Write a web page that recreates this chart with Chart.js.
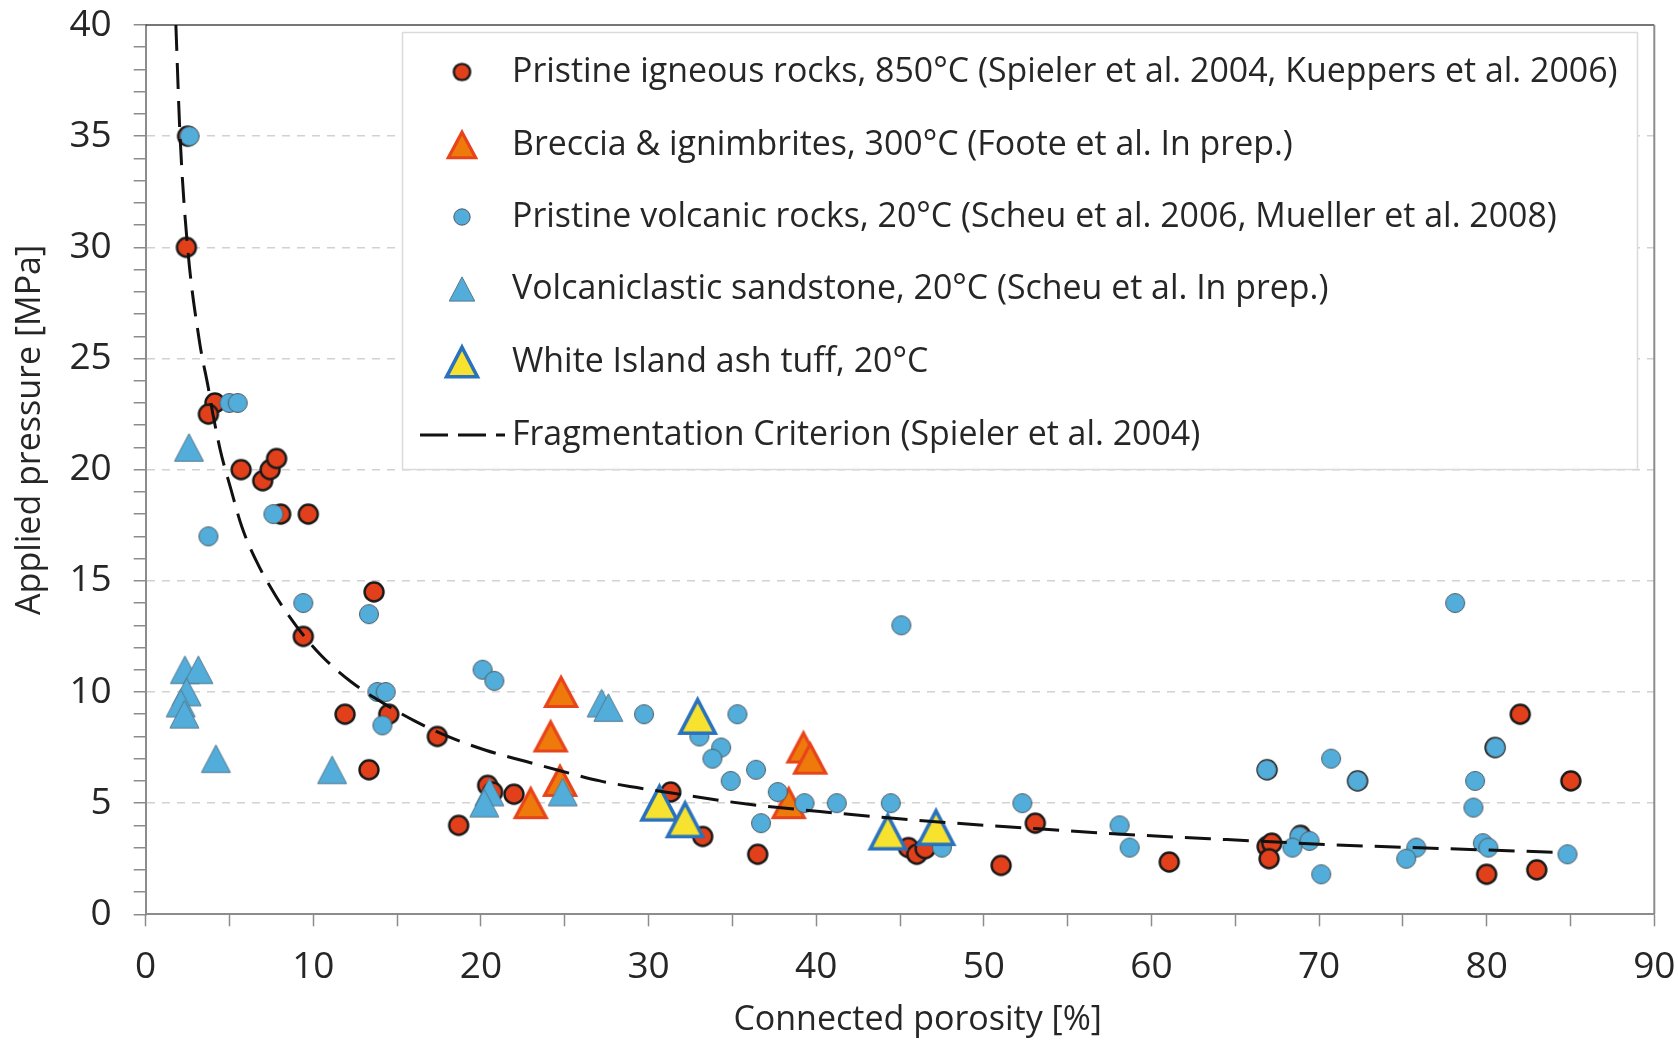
<!DOCTYPE html>
<html>
<head>
<meta charset="utf-8">
<title>Applied pressure vs connected porosity</title>
<script src="https://cdn.jsdelivr.net/npm/chart.js@4.4.1/dist/chart.umd.min.js"></script>
<style>
  html, body { margin: 0; padding: 0; background: #fff; }
  #wrap { position: relative; width: 1678px; height: 1041px; }
</style>
</head>
<body>
<div id="wrap"><canvas id="grafico"></canvas></div>
<script>
// Pristine igneous rocks, 850°C
const igneousX = [2.5, 2.43, 4.13, 3.74, 5.69, 6.98, 7.42, 7.81, 8.05, 9.7, 13.62, 9.4, 11.89, 14.5, 13.32, 17.4, 18.67, 20.4, 20.7, 21.97, 31.32, 33.23, 36.51, 45.5, 46.0, 46.5, 51.03, 53.07, 61.06, 66.9, 66.9, 67.18, 67.02, 68.9, 72.3, 80.5, 80.0, 82.0, 82.99, 85.02];
const igneousY = [35, 30, 23, 22.5, 20, 19.5, 20, 20.5, 18, 18, 14.5, 12.5, 9, 9, 6.5, 8, 4, 5.8, 5.5, 5.4, 5.5, 3.5, 2.7, 3.0, 2.7, 2.95, 2.2, 4.1, 2.35, 6.5, 3.05, 3.2, 2.5, 3.55, 6.0, 7.5, 1.8, 9.0, 2.0, 6.0];

// Breccia & ignimbrites, 300°C
const brecciaX = [24.78, 24.16, 24.72, 22.97, 39.24, 39.64, 38.36];
const brecciaY = [10, 8, 6, 5, 7.5, 7, 5];

// Pristine volcanic rocks, 20°C
const volcanicX = [2.62, 4.99, 5.49, 7.62, 3.74, 9.4, 13.32, 13.82, 14.32, 14.12, 20.1, 20.8, 29.73, 33.03, 35.3, 34.33, 33.81, 36.41, 34.9, 37.71, 39.3, 41.23, 44.45, 36.71, 47.5, 45.08, 52.3, 58.1, 58.7, 66.88, 70.72, 72.29, 68.83, 69.43, 68.41, 70.13, 75.8, 75.2, 78.12, 80.53, 79.31, 79.21, 79.77, 80.1, 84.82];
const volcanicY = [35, 23, 23, 18, 17, 14, 13.5, 10, 10, 8.5, 11, 10.5, 9, 8, 9, 7.5, 7, 6.5, 6, 5.5, 5, 5, 5, 4.1, 3.0, 13, 5, 4.0, 3.0, 6.5, 7, 6, 3.5, 3.3, 3.0, 1.8, 3.0, 2.5, 14, 7.5, 6, 4.8, 3.2, 3.0, 2.7];

// Volcaniclastic sandstone, 20°C
const sandstoneX = [2.58, 2.34, 3.14, 2.44, 2.09, 2.31, 4.19, 11.12, 20.5, 20.2, 24.88, 27.2, 27.6];
const sandstoneY = [21, 11, 11, 10, 9.5, 9, 7, 6.5, 5.5, 5, 5.5, 9.5, 9.3];

// White Island ash tuff, 20°C
const tuffX = [32.93, 30.65, 32.18, 44.27, 47.15];
const tuffY = [8.9, 5.0, 4.25, 3.7, 3.9];

// Fragmentation criterion curve
const curveX = [1.8, 2.05, 2.5, 3.2, 3.74, 4.0, 4.47, 5.07, 5.73, 6.62, 7.76, 9.01, 10.5, 12.25, 14.12, 16.01, 18.06, 20.24, 22.7, 24.72, 27.1, 29.3, 31.48, 35.86, 40.23, 44.61, 48.99, 51.37, 56.5, 61.71, 64.5, 71.06, 77.62, 84.5];
const curveY = [40, 35, 30, 25.8, 23.66, 22.54, 20.81, 19.16, 17.44, 15.86, 14.32, 12.94, 11.62, 10.46, 9.52, 8.71, 7.99, 7.39, 6.87, 6.46, 6.0, 5.7, 5.44, 4.96, 4.62, 4.32, 4.06, 3.94, 3.68, 3.46, 3.36, 3.12, 2.95, 2.78];

const seriesLabels = [
  "Pristine igneous rocks, 850°C (Spieler et al. 2004, Kueppers et al. 2006)",
  "Breccia & ignimbrites, 300°C (Foote et al. In prep.)",
  "Pristine volcanic rocks, 20°C (Scheu et al. 2006, Mueller et al. 2008)",
  "Volcaniclastic sandstone, 20°C (Scheu et al. In prep.)",
  "White Island ash tuff, 20°C",
  "Fragmentation Criterion (Spieler et al. 2004)"
];

const FONTE = '"Open Sans", "DejaVu Sans", sans-serif';
const COR_TEXTO = '#262626';

function pares(xs, ys) {
  return xs.map((x, i) => ({ x: x, y: ys[i] }));
}

// marcadores desenhados num canvas pequeno (usado como pointStyle)
function marcadorCirculo(diam, fill, stroke, lw) {
  const s = Math.ceil(diam + lw + 4);
  const c = document.createElement("canvas");
  c.width = s; c.height = s;
  const g = c.getContext("2d");
  g.beginPath();
  g.arc(s / 2, s / 2, diam / 2, 0, Math.PI * 2);
  g.fillStyle = fill;
  g.fill();
  g.lineWidth = lw;
  g.strokeStyle = stroke;
  g.stroke();
  return c;
}

function marcadorTriangulo(w, h, fill, stroke, lw) {
  const s = Math.ceil(Math.max(w, h) + lw * 2 + 4);
  const c = document.createElement("canvas");
  c.width = s; c.height = s;
  const g = c.getContext("2d");
  g.beginPath();
  g.moveTo(s / 2, (s - h) / 2);
  g.lineTo(s / 2 + w / 2, (s + h) / 2);
  g.lineTo(s / 2 - w / 2, (s + h) / 2);
  g.closePath();
  g.fillStyle = fill;
  g.fill();
  g.lineJoin = "miter";
  g.lineWidth = lw;
  g.strokeStyle = stroke;
  g.stroke();
  return c;
}

function criarMarcadores(kc, kt) {
  return {
    igneous: marcadorCirculo(19 * kc, "#E1401B", "#1a1a1a", 2.4),
    breccia: marcadorTriangulo(31 * kt, 29 * kt, "#EF7A0C", "#E8441B", 3.2),
    volcanic: marcadorCirculo(19 * kc, "#52ADDA", "#505a60", 1),
    sandstone: marcadorTriangulo(29 * kt, 27.5 * kt, "#52ADDA", "#56788c", 1),
    tuff: marcadorTriangulo(35 * kt, 33.5 * kt, "#F6E22F", "#2A72BD", 3.6)
  };
}

const mk = criarMarcadores(1, 1);
const mkLegenda = criarMarcadores(0.86, 0.88);

// Legenda dentro da área do gráfico
const legendaPlugin = {
  id: "legenda",
  beforeDatasetsDraw(chart) {
    const ctx = chart.ctx;
    const box = { x: 402, y: 32, w: 1235, h: 437 };
    ctx.save();
    ctx.fillStyle = "#fff";
    ctx.fillRect(box.x, box.y, box.w, box.h);
    ctx.strokeStyle = "#dadada";
    ctx.lineWidth = 1.5;
    ctx.strokeRect(box.x + 0.5, box.y + 0.5, box.w, box.h);

    let size = 34;
    ctx.font = size + "px " + FONTE;
    const maior = Math.max(...seriesLabels.map(t => ctx.measureText(t).width));
    size = Math.min(37, size * 1106 / maior);
    ctx.font = size + "px " + FONTE;
    ctx.fillStyle = COR_TEXTO;
    ctx.textBaseline = "middle";
    ctx.textAlign = "left";

    const icones = [mkLegenda.igneous, mkLegenda.breccia, mkLegenda.volcanic, mkLegenda.sandstone, mkLegenda.tuff];
    const linhaY = [72, 145, 217, 289, 362, 435];
    seriesLabels.forEach((txt, i) => {
      const y = linhaY[i];
      if (i < 5) {
        const ic = icones[i];
        ctx.drawImage(ic, 462 - ic.width / 2, y - ic.height / 2);
      } else {
        ctx.save();
        ctx.strokeStyle = "#111";
        ctx.lineWidth = 3;
        ctx.setLineDash([28, 10]);
        ctx.beginPath();
        ctx.moveTo(420, y);
        ctx.lineTo(505, y);
        ctx.stroke();
        ctx.restore();
      }
      ctx.fillText(txt, 512, y);
    });
    ctx.restore();
  }
};

// moldura superior e direita
const molduraPlugin = {
  id: "moldura",
  beforeDatasetsDraw(chart) {
    const a = chart.chartArea;
    const ctx = chart.ctx;
    ctx.save();
    ctx.strokeStyle = "#4a4a4a";
    ctx.lineWidth = 1.5;
    ctx.beginPath();
    ctx.moveTo(a.left, a.top);
    ctx.lineTo(a.right, a.top);
    ctx.stroke();
    ctx.strokeStyle = "#8c8c8c";
    ctx.lineWidth = 2;
    ctx.beginPath();
    ctx.moveTo(a.right, a.top);
    ctx.lineTo(a.right, a.bottom);
    ctx.stroke();
    ctx.restore();
  }
};

new Chart(document.getElementById("grafico"), {
  type: "scatter",
  data: {
    datasets: [
      {
        label: seriesLabels[5],
        data: pares(curveX, curveY),
        showLine: true,
        borderColor: "#111",
        borderWidth: 3,
        borderDash: [26, 12],
        pointRadius: 0,
        pointHoverRadius: 0,
        fill: false,
        cubicInterpolationMode: "monotone",
        order: 0
      },
      { label: seriesLabels[4], data: pares(tuffX, tuffY), pointStyle: mk.tuff, pointRadius: 12, order: 1 },
      { label: seriesLabels[3], data: pares(sandstoneX, sandstoneY), pointStyle: mk.sandstone, pointRadius: 12, order: 2 },
      { label: seriesLabels[2], data: pares(volcanicX, volcanicY), pointStyle: mk.volcanic, pointRadius: 9, order: 3 },
      { label: seriesLabels[1], data: pares(brecciaX, brecciaY), pointStyle: mk.breccia, pointRadius: 12, order: 4 },
      { label: seriesLabels[0], data: pares(igneousX, igneousY), pointStyle: mk.igneous, pointRadius: 9, order: 5 }
    ]
  },
  options: {
    responsive: true,
    maintainAspectRatio: false,
    animation: false,
    layout: { padding: { top: 25, right: 23.7, left: 0, bottom: 0 } },
    plugins: { legend: { display: false }, tooltip: { enabled: false } },
    scales: {
      x: {
        type: "linear",
        min: 0,
        max: 90,
        afterFit(s) {
          s.height = 126.7;
          s.paddingLeft = 0;
          s.paddingRight = 0;
        },
        ticks: {
          stepSize: 5,
          autoSkip: false,
          maxRotation: 0,
          padding: 19,
          color: COR_TEXTO,
          font: { family: FONTE, size: 37 },
          callback: v => (v % 10 === 0 ? v : "")
        },
        grid: { drawOnChartArea: false, tickLength: 12, tickColor: "#8c8c8c", tickWidth: 1.5 },
        border: { color: "#8c8c8c", width: 2 },
        title: {
          display: true,
          text: "    Connected porosity [%]",
          color: COR_TEXTO,
          font: { family: FONTE, size: 34 },
          padding: { top: 0, bottom: 0 }
        }
      },
      y: {
        type: "linear",
        min: 0,
        max: 40,
        afterFit(s) {
          s.width = 145.7;
          s.paddingTop = 0;
          s.paddingBottom = 0;
        },
        ticks: {
          stepSize: 1,
          autoSkip: false,
          padding: 22,
          color: COR_TEXTO,
          font: { family: FONTE, size: 37 },
          callback: v => (v % 5 === 0 ? v : "")
        },
        grid: {
          color: c => (c.tick && c.tick.value % 5 === 0 && c.tick.value > 0 && c.tick.value < 40 ? "#d2d2d2" : "rgba(0,0,0,0)"),
          lineWidth: 1.5,
          tickLength: 12,
          tickColor: "#8c8c8c",
          tickWidth: 1.5,
          tickBorderDash: []
        },
        border: { color: "#8c8c8c", width: 2, dash: [8, 7] },
        title: {
          display: true,
          text: "         Applied pressure [MPa]",
          color: COR_TEXTO,
          font: { family: FONTE, size: 34 },
          padding: { top: 10, bottom: 0 }
        }
      }
    }
  },
  plugins: [molduraPlugin, legendaPlugin]
});
</script>
</body>
</html>
